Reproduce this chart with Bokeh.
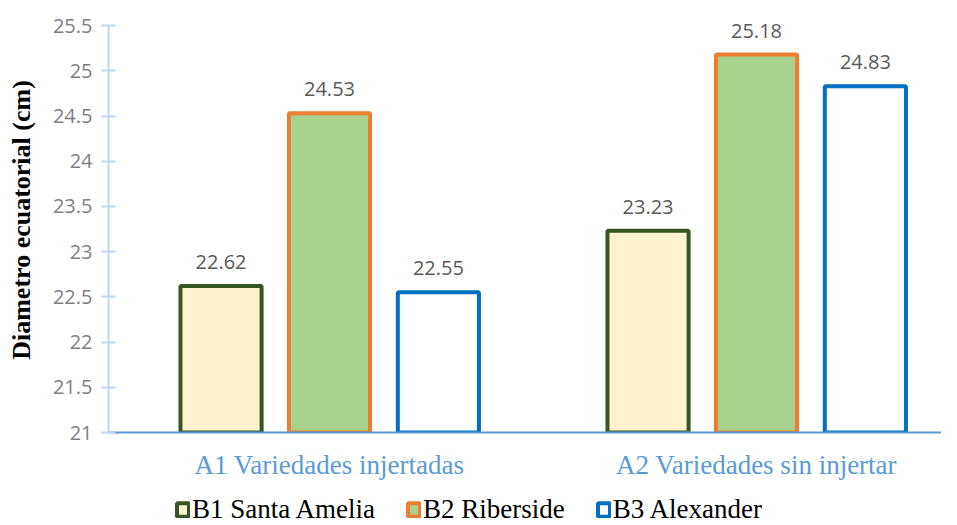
from bokeh.plotting import figure
from bokeh.layouts import column
from bokeh.models import (ColumnDataSource, FixedTicker, CustomJSTickFormatter,
                          Legend, LegendItem, LabelSet, Range1d)
from bokeh.core.properties import value
from bokeh.embed import file_html
from bokeh.resources import INLINE

groups = ["A1 Variedades injertadas", "A2 Variedades sin injertar"]
series = ["B1 Santa Amelia", "B2 Riberside", "B3 Alexander"]
b1_values = [22.62, 23.23]
b2_values = [24.53, 25.18]
b3_values = [22.55, 24.83]
y_ticks = [21, 21.5, 22, 22.5, 23, 23.5, 24, 24.5, 25, 25.5]

values = [b1_values, b2_values, b3_values]
fills = ["#fff2cc", "#a9d18e", "#ffffff"]
lines = ["#375623", "#ed7d31", "#0070c0"]
offsets = [-0.254, 0.0, 0.255]
bar_w = 0.19
x0 = -7.5 / 427

p = figure(width=941, height=483, output_backend="svg", toolbar_location=None,
           x_range=Range1d(x0, x0 + 833 / 427), y_range=Range1d(21, 25.7),
           min_border_left=108, min_border_right=0, min_border_top=7,
           min_border_bottom=51)
p.outline_line_color = None
p.xgrid.visible = False
p.ygrid.visible = False
p.background_fill_color = "#ffffff"

for vals, fc, lc, off in zip(values, fills, lines, offsets):
    xs = [i + 0.5 + off for i in range(len(groups))]
    src = ColumnDataSource(dict(x=xs, top=vals, lab=[f"{v:.2f}" for v in vals]))
    p.vbar(x="x", top="top", bottom=21, width=bar_w, source=src,
           fill_color=fc, line_color=lc, line_width=4)
    labels = LabelSet(x="x", y="top", text="lab", source=src, text_align="center",
                      text_baseline="bottom", y_offset=17, text_font=value("Open Sans"),
                      text_font_size="20px", text_color="#595959")
    p.add_layout(labels)

# y axis
yax = p.yaxis[0]
yax.bounds = (y_ticks[0], y_ticks[-1])
yax.ticker = FixedTicker(ticks=y_ticks)
yax.formatter = CustomJSTickFormatter(code="return tick.toString();")
yax.axis_line_color = "#bdd7ee"
yax.axis_line_width = 2
yax.major_tick_line_color = "#bdd7ee"
yax.major_tick_line_width = 2
yax.major_tick_in = 7
yax.major_tick_out = 7
yax.minor_tick_line_color = None
yax.major_label_text_font = "Open Sans"
yax.major_label_text_font_size = "20px"
yax.major_label_text_color = "#7f7f7f"
yax.major_label_standoff = 9
yax.axis_label = "Diametro ecuatorial (cm)"
yax.axis_label_text_font = "Times New Roman"
yax.axis_label_text_font_style = "bold"
yax.axis_label_text_font_size = "26px"
yax.axis_label_text_color = "#000000"
yax.axis_label_standoff = 14

# x axis
xax = p.xaxis[0]
xax.ticker = FixedTicker(ticks=[i + 0.5 for i in range(len(groups))])
xax.formatter = CustomJSTickFormatter(args=dict(labels=groups),
                                      code="return labels[Math.round(tick - 0.5)];")
xax.axis_line_color = "#5b9bd5"
xax.axis_line_width = 2
xax.major_tick_line_color = None
xax.major_tick_out = 0
xax.major_tick_in = 0
xax.minor_tick_line_color = None
xax.major_label_text_font = "Times New Roman"
xax.major_label_text_font_size = "27px"
xax.major_label_text_color = "#5b9bd5"
xax.major_label_standoff = 17

# legend in a strip below the chart (swatches carry no drawable data)
nan = float("nan")
lg = figure(width=941, height=42, output_backend="svg", toolbar_location=None,
            x_range=Range1d(0, 1), y_range=Range1d(0, 1),
            min_border=0)
lg.axis.visible = False
lg.grid.visible = False
lg.outline_line_color = None
legend_renderers = []
for fc, lc in zip(fills, lines):
    r = lg.vbar(x=[nan], top=[nan], bottom=nan, width=0.1,
                fill_color=fc, line_color=lc, line_width=4)
    legend_renderers.append(r)
legend = Legend(items=[LegendItem(label=s, renderers=[r]) for s, r in zip(series, legend_renderers)],
                orientation="horizontal", location=(67, 0),
                padding=0, margin=0, spacing=31, label_standoff=2,
                glyph_width=15, glyph_height=17, label_height=26,
                border_line_color=None, background_fill_alpha=0,
                label_text_font="Times New Roman", label_text_font_size="27px",
                label_text_color="#000000")
lg.add_layout(legend, "center")

layout = column(p, lg, spacing=0)
open("out.html", "w").write(file_html(layout, INLINE))
